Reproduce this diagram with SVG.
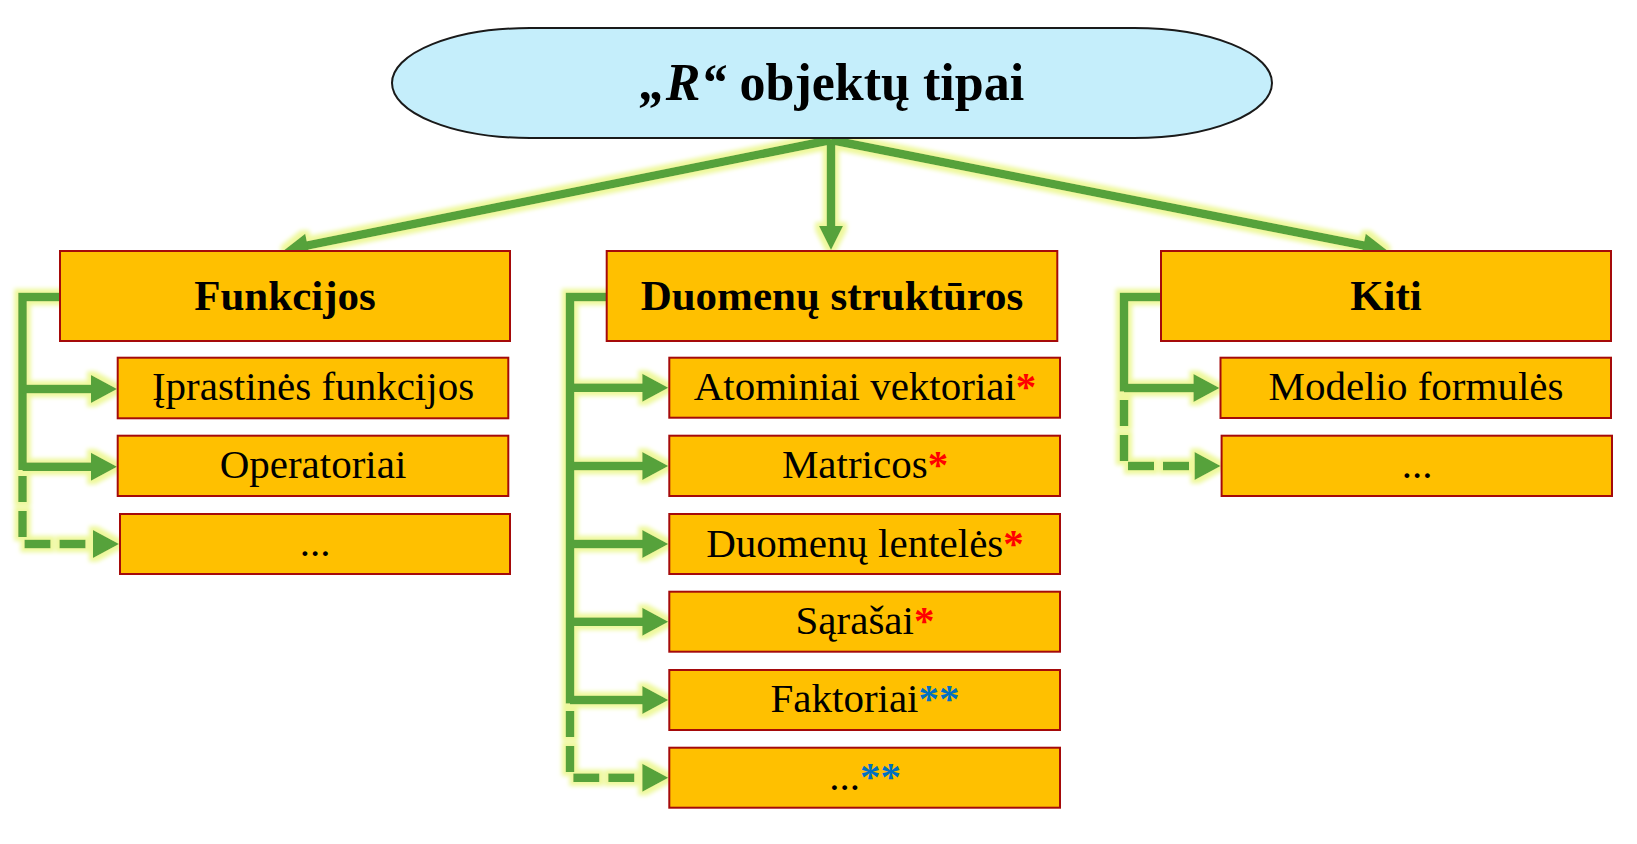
<svg xmlns="http://www.w3.org/2000/svg" width="1637" height="844" viewBox="0 0 1637 844">
<style>
.box{fill:#FFC000;stroke:#A50A0A;stroke-width:2}
.head{font-family:"Liberation Serif",serif;font-weight:bold;font-size:43px;fill:#000;text-anchor:middle}
.sub{font-family:"Liberation Serif",serif;font-size:41px;fill:#000;text-anchor:middle}
.red{fill:#FF0000;font-weight:bold}
.blue{fill:#0070C0;font-weight:bold}
.ln{fill:none;stroke:#56A23A;stroke-width:8.5;stroke-linejoin:miter}
.dash{stroke-dasharray:26 9}
</style>
<defs>
<marker id="ah" markerUnits="userSpaceOnUse" markerWidth="27" markerHeight="28" refX="1" refY="14" orient="auto" overflow="visible">
<path d="M0,0 L26,14 L0,28 z" fill="#56A23A"/>
</marker>
<marker id="ahTop" markerUnits="userSpaceOnUse" markerWidth="25" markerHeight="24" refX="1" refY="12" orient="auto" overflow="visible">
<path d="M0,0 L24,12 L0,24 z" fill="#56A23A"/>
</marker>
<filter id="glow" filterUnits="userSpaceOnUse" x="0" y="0" width="1637" height="844">
<feMorphology in="SourceAlpha" operator="dilate" radius="3.5" result="d"/>
<feGaussianBlur in="d" stdDeviation="2.2" result="b"/>
<feFlood flood-color="#EEF89C" flood-opacity="1"/>
<feComposite in2="b" operator="in" result="g"/>
<feMerge><feMergeNode in="g"/><feMergeNode in="SourceGraphic"/></feMerge>
</filter>
</defs>

<g id="connectors" filter="url(#glow)">
<!-- top -->
<path class="ln" d="M831,140 L306.6,245.6" marker-end="url(#ahTop)"/>
<path class="ln" d="M831,140 L831,227" marker-end="url(#ahTop)"/>
<path class="ln" d="M831,140 L1364.4,245.7" marker-end="url(#ahTop)"/>
<!-- left column -->
<path class="ln" d="M60,297 H22.5 V470"/>
<path class="ln" d="M22.5,389 H92" marker-end="url(#ah)"/>
<path class="ln" d="M22.5,466.7 H92" marker-end="url(#ah)"/>
<path class="ln dash" d="M22.5,476 V544 H94" marker-end="url(#ah)"/>
<!-- middle column -->
<path class="ln" d="M607,297 H570 V703.5"/>
<path class="ln" d="M570,387.7 H643.3" marker-end="url(#ah)"/>
<path class="ln" d="M570,466 H643.3" marker-end="url(#ah)"/>
<path class="ln" d="M570,544 H643.3" marker-end="url(#ah)"/>
<path class="ln" d="M570,621.7 H643.3" marker-end="url(#ah)"/>
<path class="ln" d="M570,700 H643.3" marker-end="url(#ah)"/>
<path class="ln dash" d="M570,711 V777.7 H643.3" marker-end="url(#ah)"/>
<!-- right column -->
<path class="ln" d="M1161,297 H1124 V391.5"/>
<path class="ln" d="M1124,388 H1194.5" marker-end="url(#ah)"/>
<path class="ln dash" d="M1124,400 V466 H1195.6" marker-end="url(#ah)"/>
</g>

<g id="root">
<path d="M530,28 H1134 A138,55 0 0 1 1134,138 H530 A138,55 0 0 1 530,28 Z" fill="#C5EEFB" stroke="#1A1A1A" stroke-width="2"/>
<text x="832" y="100" font-family="Liberation Serif, serif" font-weight="bold" font-size="52" text-anchor="middle" fill="#000"><tspan font-style="italic">„R“</tspan> objektų tipai</text>
</g>

<g id="funkcijos">
<rect class="box" x="60" y="251" width="450" height="90"/>
<text class="head" x="285" y="310">Funkcijos</text>
</g>
<g id="iprastines">
<rect class="box" x="117.7" y="357.7" width="390.6" height="60.6"/>
<text class="sub" x="313" y="400">Įprastinės funkcijos</text>
</g>
<g id="operatoriai">
<rect class="box" x="117.7" y="435.7" width="390.6" height="60.3"/>
<text class="sub" x="313" y="478.3">Operatoriai</text>
</g>
<g id="funkcijos-kita">
<rect class="box" x="120" y="514" width="390" height="60"/>
<text class="sub" x="315" y="556">...</text>
</g>

<g id="duomenu-strukturos">
<rect class="box" x="606.7" y="251" width="450.6" height="90"/>
<text class="head" x="832" y="310">Duomenų struktūros</text>
</g>
<g id="atominiai">
<rect class="box" x="669.3" y="357.7" width="390.7" height="60"/>
<text class="sub" x="865" y="400">Atominiai vektoriai<tspan class="red">*</tspan></text>
</g>
<g id="matricos">
<rect class="box" x="669.3" y="435.7" width="390.7" height="60.3"/>
<text class="sub" x="865" y="478.3">Matricos<tspan class="red">*</tspan></text>
</g>
<g id="lenteles">
<rect class="box" x="669.3" y="514" width="390.7" height="60"/>
<text class="sub" x="865" y="556.5">Duomenų lentelės<tspan class="red">*</tspan></text>
</g>
<g id="sarasai">
<rect class="box" x="669.3" y="591.7" width="390.7" height="60"/>
<text class="sub" x="865" y="634">Sąrašai<tspan class="red">*</tspan></text>
</g>
<g id="faktoriai">
<rect class="box" x="669.3" y="670" width="390.7" height="60"/>
<text class="sub" x="865" y="712">Faktoriai<tspan class="blue">**</tspan></text>
</g>
<g id="duomenys-kita">
<rect class="box" x="669.3" y="747.7" width="390.7" height="60"/>
<text class="sub" x="865" y="790">...<tspan class="blue">**</tspan></text>
</g>

<g id="kiti">
<rect class="box" x="1161" y="251" width="450" height="90"/>
<text class="head" x="1386" y="310">Kiti</text>
</g>
<g id="modelio">
<rect class="box" x="1220.5" y="357.7" width="390.5" height="60.3"/>
<text class="sub" x="1416" y="400">Modelio formulės</text>
</g>
<g id="kiti-kita">
<rect class="box" x="1221.6" y="435.7" width="390.4" height="60.3"/>
<text class="sub" x="1417" y="478.3">...</text>
</g>
</svg>
